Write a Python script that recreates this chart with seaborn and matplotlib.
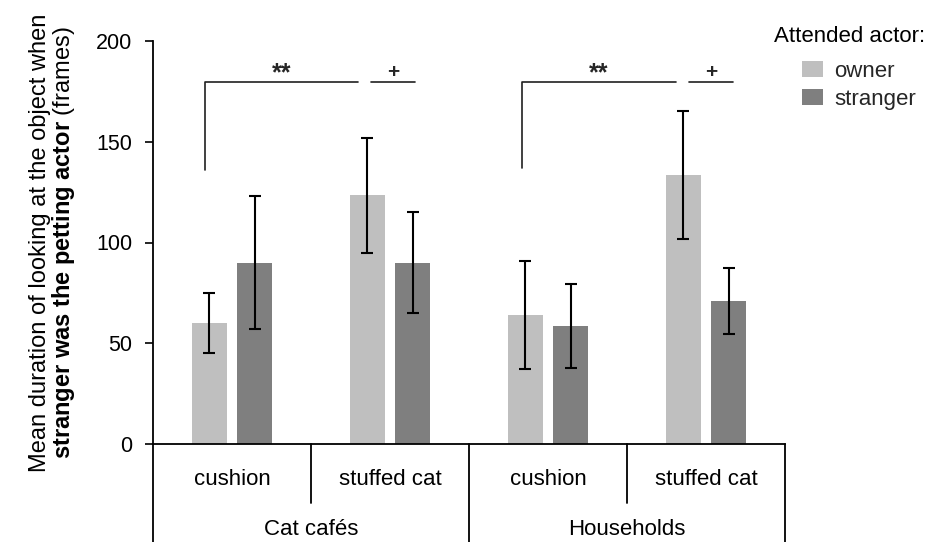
import numpy as np
import pandas as pd
import matplotlib
matplotlib.use("Agg")
import matplotlib.pyplot as plt
import matplotlib.transforms as mtransforms
import seaborn as sns

# Data
settings = ["Cat cafés", "Households"]
objects = ["cushion", "stuffed cat"]
actors = ["owner", "stranger"]
owner_mean = [60, 123.5, 64, 133.5]
owner_sem = [15, 28.5, 27, 32]
stranger_mean = [90, 90, 58.5, 71]
stranger_sem = [33, 25, 20.8, 16.5]
y_ticks = [0, 50, 100, 150, 200]

# significance marks: (x_left, x_right, y_bottom of the left arm, label)
long_brackets = [(-0.17, 0.80, 136, "**"), (1.835, 2.81, 137, "**")]
short_brackets = [(0.88, 1.16, "+"), (2.895, 3.17, "+")]
bracket_y = 179.5

colors = {"owner": "#BFBFBF", "stranger": "#7F7F7F"}

conds = [f"{s}|{o}" for s in settings for o in objects]
df = pd.DataFrame({
    "cond": conds * 2,
    "actor": ["owner"] * 4 + ["stranger"] * 4,
    "duration": owner_mean + stranger_mean,
    "err": owner_sem + stranger_sem,
})

sns.set_theme(style="ticks")
plt.rcParams["font.family"] = ["Liberation Sans", "DejaVu Sans"]
plt.rcParams["mathtext.fontset"] = "custom"
plt.rcParams["mathtext.rm"] = "Liberation Sans"
plt.rcParams["mathtext.bf"] = "Liberation Sans:bold"
plt.rcParams["mathtext.it"] = "Liberation Sans:italic"

fig = plt.figure(figsize=(9.47, 5.42), dpi=100)
ax = fig.add_axes([153 / 947, 1 - 444 / 542, 632 / 947, 403 / 542])

sns.barplot(data=df, x="cond", y="duration", hue="actor", order=conds,
            hue_order=actors, palette=colors, width=0.57, gap=0.22,
            errorbar=None, linewidth=0, ax=ax)

# error bars on top of the bars
for container, actor in zip(ax.containers, actors):
    for bar in container:
        xc = bar.get_x() + bar.get_width() / 2
        row = df[(df["cond"] == conds[int(round(xc))]) & (df["actor"] == actor)]
        ax.errorbar(xc, row["duration"].iloc[0], yerr=row["err"].iloc[0], fmt="none",
                    ecolor="black", elinewidth=1.5, capsize=4.2, capthick=1.5)

ax.set_xlim(-0.5, 3.5)
ax.set_ylim(0, 200)
ax.set_yticks(y_ticks)
ax.tick_params(axis="y", labelsize=15.5, length=6, width=1.2, pad=9, colors="black")
ax.set_xticks([])
ax.set_xlabel("")
sns.despine(ax=ax)
for side in ["left", "bottom"]:
    ax.spines[side].set_linewidth(1.3)
    ax.spines[side].set_color("black")

ax.set_ylabel("Mean duration of looking at the object when\n"
              + r"$\mathbf{stranger\ was\ the\ petting\ actor}$ (frames)",
              fontsize=17, linespacing=0.95, color="black")
ax.yaxis.set_label_coords(-0.12, 0.5)

# two level category axis
trans = mtransforms.blended_transform_factory(ax.transData, ax.transAxes)
for x in [0.5, 2.5]:
    ax.plot([x, x], [0, -0.146], transform=trans, color="black", lw=1.3, clip_on=False)
for x in [-0.5, 1.5, 3.5]:
    ax.plot([x, x], [0, -0.26], transform=trans, color="black", lw=1.3, clip_on=False)
for i, c in enumerate(conds):
    ax.text(i, -0.087, c.split("|")[1], transform=trans, ha="center", va="center",
            fontsize=16, color="black")
for j, s in enumerate(settings):
    ax.text(2 * j + 0.5, -0.211, s, transform=trans, ha="center", va="center",
            fontsize=16, color="black")

# significance brackets
for x0, x1, y0, lab in long_brackets:
    ax.plot([x0, x0, x1], [y0, bracket_y, bracket_y], color="#202020", lw=1.2, clip_on=False)
    ax.text((x0 + x1) / 2, bracket_y - 1.5, lab, ha="center", va="bottom",
            fontsize=18, fontweight="bold")
for x0, x1, lab in short_brackets:
    ax.plot([x0, x1], [bracket_y, bracket_y], color="#202020", lw=1.2, clip_on=False)
    ax.text((x0 + x1) / 2, bracket_y + 0.2, lab, ha="center", va="bottom",
            fontsize=15, fontweight="bold")

# legend: title as separate text so it sits higher like the original
old = ax.get_legend()
handles = old.legend_handles
labels = [t.get_text() for t in old.texts]
ax.legend(handles, labels, frameon=False, fontsize=16,
          loc="upper left", bbox_to_anchor=(802 / 947, 1 - 61 / 542),
          bbox_transform=fig.transFigure, handlelength=0.95, handleheight=0.7,
          handletextpad=0.5, labelspacing=0.3, borderaxespad=0, borderpad=0)
fig.text(774 / 947, 1 - 37 / 542, "Attended actor:", ha="left", va="center",
         fontsize=16, color="black")

fig.savefig("out.png", dpi=100)
